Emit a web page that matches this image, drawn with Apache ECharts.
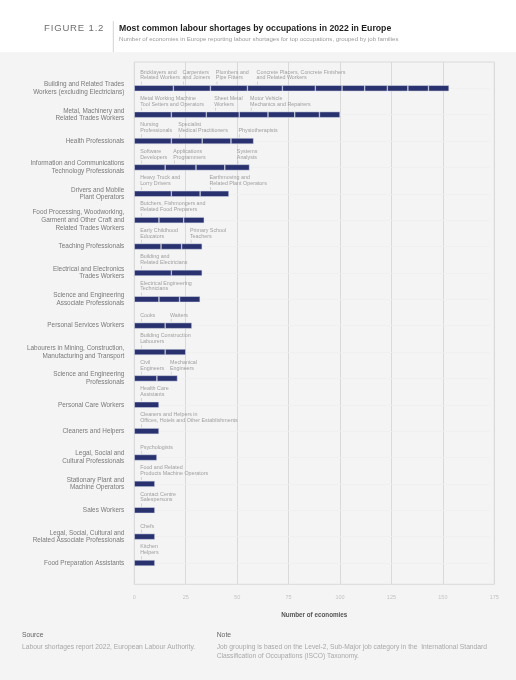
<!DOCTYPE html>
<html lang="en">

<head>
  <meta charset="UTF-8">
  <title>Most common labour shortages by occupations in 2022 in Europe</title>
  <style>
    html, body { margin: 0; padding: 0; background: #f4f4f4; }
    #main { width: 516px; height: 680px; }
  </style>
</head>

<body>
  <div id="main"></div>
</body>
<script src="https://cdn.jsdelivr.net/npm/echarts@6/dist/echarts.min.js"></script>
<script>
  // job families, top to bottom
  var families = [
    'Building and Related Trades\nWorkers (excluding Electricians)',
    'Metal, Machinery and\nRelated Trades Workers',
    'Health Professionals',
    'Information and Communications\nTechnology Professionals',
    'Drivers and Mobile\nPlant Operators',
    'Food Processing, Woodworking,\nGarment and Other Craft and\nRelated Trades Workers',
    'Teaching Professionals',
    'Electrical and Electronics\nTrades Workers',
    'Science and Engineering\nAssociate Professionals',
    'Personal Services Workers',
    'Labourers in Mining, Construction,\nManufacturing and Transport',
    'Science and Engineering\nProfessionals',
    'Personal Care Workers',
    'Cleaners and Helpers',
    'Legal, Social and\nCultural Professionals',
    'Stationary Plant and\nMachine Operators',
    'Sales Workers',
    'Legal, Social, Cultural and\nRelated Associate Professionals',
    'Food Preparation Assistants'
  ];

  // number of economies per occupation (one segment each), per family
  var segments = [
    [19, 18, 18, 17, 16, 13, 11, 11, 10, 10, 10],
    [18, 17, 16, 14, 13, 12, 10],
    [18, 15, 14, 11],
    [15, 15, 14, 12],
    [18, 14, 14],
    [12, 12, 10],
    [13, 10, 10],
    [18, 15],
    [12, 10, 10],
    [15, 13],
    [15, 10],
    [11, 10],
    [12],
    [12],
    [11],
    [10],
    [10],
    [10],
    [10]
  ];

  // named occupations: [family index, x (economies), name]
  var occupations = [
    [0, 3.4, 'Bricklayers and\nRelated Workers'],
    [0, 24, 'Carpenters\nand Joiners'],
    [0, 40.2, 'Plumbers and\nPipe Fitters'],
    [0, 60, 'Concrete Placers, Concrete Finishers\nand Related Workers'],
    [1, 3.4, 'Metal Working Machine\nTool Setters and Operators'],
    [1, 39.4, 'Sheet Metal\nWorkers'],
    [1, 56.8, 'Motor Vehicle\nMechanics and Repairers'],
    [2, 3.4, 'Nursing\nProfessionals'],
    [2, 21.9, 'Specialist\nMedical Practitioners'],
    [2, 51.2, 'Physiotherapists'],
    [3, 3.4, 'Software\nDevelopers'],
    [3, 19.5, 'Applications\nProgrammers'],
    [3, 50.4, 'Systems\nAnalysts'],
    [4, 3.4, 'Heavy Truck and\nLorry Drivers'],
    [4, 37.1, 'Earthmoving and\nRelated Plant Operators'],
    [5, 3.4, 'Butchers, Fishmongers and\nRelated Food Preparers'],
    [6, 3.4, 'Early Childhood\nEducators'],
    [6, 27.6, 'Primary School\nTeachers'],
    [7, 3.4, 'Building and\nRelated Electricians'],
    [8, 3.4, 'Electrical Engineering\nTechnicians'],
    [9, 3.4, 'Cooks'],
    [9, 17.9, 'Waiters'],
    [10, 3.4, 'Building Construction\nLabourers'],
    [11, 3.4, 'Civil\nEngineers'],
    [11, 17.9, 'Mechanical\nEngineers'],
    [12, 3.4, 'Health Care\nAssistants'],
    [13, 3.4, 'Cleaners and Helpers in\nOffices, Hotels and Other Establishments'],
    [14, 3.4, 'Psychologists'],
    [15, 3.4, 'Food and Related\nProducts Machine Operators'],
    [16, 3.4, 'Contact Centre\nSalespersons'],
    [17, 3.4, 'Chefs'],
    [18, 3.4, 'Kitchen\nHelpers']
  ];

  var xTicks = [0, 175, 25]; // min, max, interval

  var font = '"Liberation Sans", Arial, sans-serif';
  var chart = echarts.init(document.getElementById('main'), null, { renderer: 'canvas' });

  var maxSeg = Math.max.apply(null, segments.map(function (r) { return r.length; }));
  var series = [];
  for (var k = 0; k < maxSeg; k++) {
    series.push({
      type: 'bar',
      stack: 'total',
      xAxisIndex: 1,
      yAxisIndex: 1,
      barWidth: 6,
      silent: true,
      itemStyle: { color: '#29326f', borderColor: '#dde1ec', borderWidth: 0.5 },
      data: segments.map(function (r) { return r[k] === undefined ? '-' : r[k]; })
    });
  }

  series.push({
    type: 'scatter',
    xAxisIndex: 1,
    yAxisIndex: 1,
    silent: true,
    symbol: 'rect',
    symbolSize: [0.5, 3],
    symbolOffset: [0, -5.3],
    itemStyle: { color: '#a5a5a5' },
    z: 5,
    data: occupations.map(function (o) {
      return {
        value: [o[1], o[0]],
        label: {
          show: true,
          formatter: o[2],
          position: [-0.9, -0.6],
          align: 'left',
          verticalAlign: 'bottom',
          fontFamily: font,
          fontSize: 5.35,
          lineHeight: 5.9,
          color: '#8a8a8a'
        }
      };
    })
  });

  var hs = '\u200A';
  var figureText = 'FIGURE 1.2'.split('').join(hs);

  var option = {
    animation: false,
    backgroundColor: '#f4f4f4',
    textStyle: { fontFamily: font },
    graphic: [
      { type: 'rect', shape: { x: 0, y: 0, width: 516, height: 52 }, style: { fill: '#ffffff' }, z: -10 },
      { type: 'line', shape: { x1: 113.3, y1: 21, x2: 113.3, y2: 52 }, style: { stroke: '#c8c8c8', lineWidth: 0.8 } },
      { type: 'text', x: 44, y: 28.6, style: { text: figureText, font: '9.6px ' + font, fill: '#6f6f6f', textVerticalAlign: 'middle' } },
      { type: 'text', x: 119, y: 28.7, style: { text: 'Most common labour shortages by occupations in 2022 in Europe', font: 'bold 8.7px ' + font, fill: '#1e1e1e', textVerticalAlign: 'middle' } },
      { type: 'text', x: 119, y: 39.8, style: { text: 'Number of economies in Europe reporting labour shortages for top occupations, grouped by job families', font: '6.1px ' + font, fill: '#9a9a9a', textVerticalAlign: 'middle' } },
      { type: 'text', x: 22, y: 635, style: { text: 'Source', font: '6.8px ' + font, fill: '#666666', textVerticalAlign: 'middle' } },
      { type: 'text', x: 22, y: 647, style: { text: 'Labour shortages report 2022, European Labour Authority.', font: '6.7px ' + font, fill: '#a8a8a8', textVerticalAlign: 'middle' } },
      { type: 'text', x: 216.7, y: 635, style: { text: 'Note', font: '6.8px ' + font, fill: '#666666', textVerticalAlign: 'middle' } },
      { type: 'text', x: 216.7, y: 651.3, style: { text: 'Job grouping is based on the Level-2, Sub-Major job category in the  International Standard\nClassification of Occupations (ISCO) Taxonomy.', font: '6.7px ' + font, fill: '#a8a8a8', lineHeight: 8.7, textVerticalAlign: 'middle' } }
    ],
    grid: [
      // frame with the value axis
      { left: 134.3, right: 21.7, top: 62, bottom: 95.7, show: true, borderColor: '#dadada', borderWidth: 1, backgroundColor: 'transparent' },
      // bars
      { left: 134.3, right: 21.7, top: 75.1, bottom: 103.8 }
    ],
    xAxis: [
      {
        gridIndex: 0,
        type: 'value',
        min: xTicks[0],
        max: xTicks[1],
        interval: xTicks[2],
        axisLine: { show: false },
        axisTick: { show: false },
        splitLine: { lineStyle: { color: '#dadada', width: 1 } },
        axisLabel: { color: '#c3c3c3', fontSize: 5.5, margin: 10 },
        name: 'Number of economies',
        nameLocation: 'middle',
        nameGap: 27.7,
        nameTextStyle: { color: '#555555', fontSize: 6.3, fontWeight: 'bold' }
      },
      {
        gridIndex: 1,
        type: 'value',
        min: xTicks[0],
        max: xTicks[1],
        show: false
      }
    ],
    yAxis: [
      { gridIndex: 0, type: 'value', show: false },
      {
        gridIndex: 1,
        type: 'category',
        inverse: true,
        data: families,
        axisLine: { show: false },
        axisTick: { show: true, alignWithLabel: true, inside: true, length: 355, lineStyle: { color: '#efefef', width: 0.8 } },
        splitLine: { show: false },
        axisLabel: { color: '#7a7a7a', fontSize: 6.4, lineHeight: 7.6, margin: 10, align: 'right' }
      }
    ],
    series: series
  };

  chart.setOption(option);
</script>

</html>
